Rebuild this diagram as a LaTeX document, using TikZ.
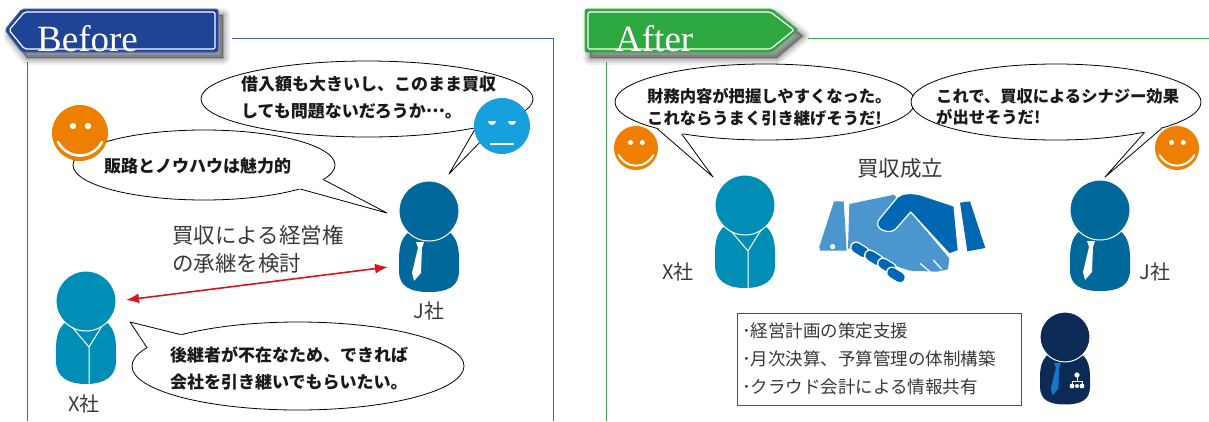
\documentclass[tikz,border=0pt]{standalone}
\usepackage{fontspec}
\setmainfont{Liberation Serif}
\newfontfamily\jp{Noto Sans CJK JP}
\usetikzlibrary{shapes.geometric, arrows.meta, calc}

\definecolor{beforeblue}{HTML}{1F4496}
\definecolor{framebl}{HTML}{4361AD}
\definecolor{aftergreen}{HTML}{2CA83F}
\definecolor{framegr}{HTML}{3FA94B}
\definecolor{smile}{HTML}{EE7F00}
\definecolor{faceblue}{HTML}{17A0DE}
\definecolor{jblue}{HTML}{00689A}
\definecolor{xblue}{HTML}{008EB6}
\definecolor{navy}{HTML}{0C2A55}
\definecolor{tieblue}{HTML}{1877C9}
\definecolor{accred}{HTML}{D8141E}
\definecolor{handlight}{HTML}{4C96CE}
\definecolor{handdark}{HTML}{0067B3}
\definecolor{txt}{HTML}{383838}

% tail of a speech bubble: bubble, two border angles, tip
\newcommand{\saytail}[4]{%
  \fill[white] (#1.#2) -- (#4) -- (#1.#3) -- ($(#1.#3)!5pt!(#1.center)$) -- ($(#1.#2)!5pt!(#1.center)$) -- cycle;
  \draw[line width=0.8pt, line join=round] (#1.#2) -- (#4) -- (#1.#3);
}

\tikzset{
  bubble/.style={ellipse, draw, fill=white, line width=0.8pt, inner sep=0pt},
  saytext/.style={font=\jp\bfseries\fontsize{17}{27}\selectfont, align=left, inner sep=0pt, anchor=west, text=black!90},
  smalltext/.style={saytext, font=\jp\bfseries\fontsize{16.3}{21.5}\selectfont},
  firmname/.style={font=\jp\fontsize{20}{24}\selectfont, text=txt},
  note/.style={font=\jp\fontsize{21.5}{28}\selectfont, text=txt, align=left},
  listbox/.style={draw=accred, line width=0.8pt, align=left, text width=274pt, inner xsep=5pt,
    minimum width=284pt, minimum height=92pt, font=\jp\fontsize{17.5}{28}\selectfont, text=txt},
  tabtext/.style={font=\fontsize{37}{37}\selectfont, text=white, inner sep=0pt, anchor=base west},
  accarrow/.style={accred, line width=1.6pt, {Latex[length=13pt,width=10pt]}-{Latex[length=13pt,width=10pt]}},
  smilewidth/.initial=2.6pt,
  pics/smiley/.style={code={
    \fill[smile] (0,0) circle (28);
    \fill[white] (-7,-7) circle (3.2) (8,-7) circle (3.2);
    \draw[white, line width=\pgfkeysvalueof{/tikz/smilewidth}, line cap=round] (-22,9) .. controls (-12,27) and (12,27) .. (22,9);
  }},
  pics/muteface/.style={code={
    \fill[faceblue] (0,0) circle (28);
    \fill[white] (-14,-5) arc[start angle=180, end angle=0, radius=4] -- cycle
                 (6,-5) arc[start angle=180, end angle=0, radius=4] -- cycle;
    \draw[white, line width=2.5pt] (-12,18) -- (12,18);
  }},
  pics/staff/.style={code={
    \coordinate (-c) at (0,0);
    \fill[#1] (-30,48) .. controls (-30,24) and (-20,16) .. (0,16) .. controls (20,16) and (30,24) .. (30,48)
      -- (30,60) .. controls (30,76) and (18,83) .. (0,83) .. controls (-18,83) and (-30,76) .. (-30,60) -- cycle;
    \filldraw[#1, draw=white, line width=1pt] (0,0) circle (30);
    \draw[white, line width=1pt] (-14,26) -- (3,46) -- (16,25) (3,46) -- (3,83);
  }},
  pics/buyer/.style 2 args={code={
    \coordinate (-c) at (0,0);
    \fill[#1] (-30,48) .. controls (-30,24) and (-20,16) .. (0,16) .. controls (20,16) and (30,24) .. (30,48)
      -- (30,60) .. controls (30,76) and (18,81) .. (0,81) .. controls (-18,81) and (-30,76) .. (-30,60) -- cycle;
    \filldraw[#1, draw=white, line width=1pt] (0,0) circle (30);
    \fill[#2] (-13,31) -- (-5,31) -- (-7,37) -- (-8,62) -- (-15,70) -- (-17,62) -- (-11,37) -- cycle;
  }},
}

\begin{document}
\begin{tikzpicture}[x=1pt, y=-1pt]
  \useasboundingbox (0,0) rectangle (1209,421);

  % ---------- Before ----------
  \draw[framebl, line width=1pt] (232,38) -- (553,38) -- (553,421);
  \draw[framebl, line width=1pt] (27,62) -- (27,421);
  \foreach \w/\o in {14/0.06, 10/0.08, 6/0.1, 2/0.16}
    \filldraw[black, opacity=\o, line width=\w pt, line join=round, shift={(5,6)}]
      (5,30) -- (22,9) -- (218,9) -- (218,52) -- (22,52) -- cycle;
  \filldraw[fill=beforeblue, draw=framebl, line width=1pt, rounded corners=2pt]
    (5,30) -- (22,9) -- (218,9) -- (218,52) -- (22,52) -- cycle;
  \draw[white, line width=1.2pt, rounded corners=2pt]
    (9,30) -- (24.5,12) -- (215,12) -- (215,49) -- (24.5,49) -- cycle;
  \node[tabtext] (before) at (37,51) {Before};

  % bubbles
  \node[bubble, minimum width=332pt, minimum height=76pt] (b1) at (367,99) {};
  \coordinate (t1) at (449,174);
  \saytail{b1}{-15}{-10}{t1}
  \node[saytext] (b1t) at (241,98) {借入額も大きいし、このまま買収\\しても問題ないだろうか\raisebox{.33em}{…}。};
  \pic (mf) at (502,126) {muteface};

  \node[bubble, minimum width=262pt, minimum height=70pt] (b2) at (204,165) {};
  \coordinate (t2) at (387,213);
  \saytail{b2}{-14}{-7}{t2}
  \node[saytext] (b2t) at (104,166) {販路とノウハウは魅力的};
  \pic (sm) at (80,133) {smiley};

  \node[bubble, minimum width=332pt, minimum height=88pt] (b3) at (298,366) {};
  \coordinate (t3) at (130,322);
  \saytail{b3}{165}{173}{t3}
  \node[saytext] (b3t) at (170,368) {後継者が不在なため、できれば\\会社を引き継いでもらいたい。};

  % people
  \pic (jb) at (429,211) {buyer={jblue}{white}};
  \pic (xb) at (86,301) {staff=xblue};
  \node[firmname] (jbn) at (429,311) {J社};
  \node[firmname] (xbn) at (84,404) {X社};

  \node[note] (deal) at (258,249) {買収による経営権\\の承継を検討};
  \draw[accarrow] ($(xb-c)+(40,-1)$) -- ($(jb-c)+(-41,56)$);

  % ---------- After ----------
  \draw[framegr, line width=1pt] (808,38) -- (1209,38);
  \draw[framegr, line width=1pt] (606,62) -- (606,421);
  \foreach \w/\o in {14/0.06, 10/0.08, 6/0.1, 2/0.16}
    \filldraw[black, opacity=\o, line width=\w pt, line join=round, shift={(5,6)}]
      (585,9) -- (772,9) -- (798,30) -- (772,52) -- (585,52) -- cycle;
  \filldraw[fill=aftergreen, draw=framegr, line width=1pt, rounded corners=2pt]
    (585,9) -- (772,9) -- (798,30) -- (772,52) -- (585,52) -- cycle;
  \draw[white, line width=1.2pt, rounded corners=2pt]
    (588,12) -- (770.5,12) -- (794,30) -- (770.5,49) -- (588,49) -- cycle;
  \node[tabtext] (after) at (615,51) {After};

  \node[bubble, minimum width=300pt, minimum height=76pt] (ba) at (765,102) {};
  \coordinate (ta) at (713,177);
  \saytail{ba}{-166}{-159}{ta}
  \node[smalltext] (bat) at (647,107) {財務内容が把握しやすくなった。\\これならうまく引き継げそうだ!};

  \node[bubble, minimum width=290pt, minimum height=76pt] (bb) at (1056,102) {};
  \coordinate (tb) at (1105,177);
  \saytail{bb}{-19}{-14}{tb}
  \node[smalltext] (bbt) at (936,107) {これで、買収によるシナジー効果\\が出せそうだ!};

  \pic[scale=0.786, smilewidth=2pt] (sa) at (636,148) {smiley};
  \pic[scale=0.786, smilewidth=2pt] (sb) at (1177,148) {smiley};

  \node[note] (done) at (900,168) {買収成立};

  \pic (xa) at (745,205) {staff=xblue};
  \pic (ja) at (1100,210) {buyer={jblue}{white}};
  \node[firmname] (xan) at (678,272) {X社};
  \node[firmname] (jan) at (1155,272) {J社};

  % handshake
  \begin{scope}[shift={(810,180)}, scale=1/3]
    \fill[handlight] (72,64) -- (101,64) -- (110,212) -- (30,212) -- (28,200) -- cycle;
    \fill[white] (68,200) circle (8);
    \fill[handlight] (118,72) -- (252,44) -- (300,95) -- (418,235) -- (414,268) -- (380,275)
      -- (300,272) -- (200,240) -- (140,212) -- (114,205) -- cycle;
    \filldraw[handdark, draw=white, line width=1.2pt, line join=round]
      (222,152) .. controls (200,145) and (198,128) .. (210,115) -- (262,52)
      .. controls (275,40) and (300,38) .. (330,44) -- (432,78) -- (445,212) -- (418,222)
      -- (302,96) -- (258,146) .. controls (248,156) and (235,156) .. (222,152) -- cycle;
    \fill[handdark] (450,68) -- (480,64) -- (526,204) -- (472,214) -- cycle;
    \draw[white, line width=1.2pt] (330,250) -- (360,275) (370,240) -- (395,268);
  \end{scope}
  % fingers of the dark hand
  \foreach \x/\y in {860/250, 874/258, 887/266, 896/275} {
    \draw[white, line width=12pt, line cap=round] ($(\x,\y)+(-4,-2.5)$) -- ($(\x,\y)+(4,2.5)$);
    \draw[handdark, line width=9.5pt, line cap=round] ($(\x,\y)+(-4,-2.5)$) -- ($(\x,\y)+(4,2.5)$);
  }

  \node[listbox] (plan) at (879,359) {･経営計画の策定支援\\･月次決算、予算管理の体制構築\\･クラウド会計による情報共有};

  % advisor
  \pic[scale=0.833] (adv) at (1065,337) {buyer={navy}{tieblue}};
  \fill[white] ($(adv-c)+(12,38)$) circle (2.6);
  \draw[white, line width=0.9pt] ($(adv-c)+(12,40)$) -- ++(0,4) ++(-5,0) -- ++(10,0)
    ($(adv-c)+(7,44)$) -- ++(0,3) ($(adv-c)+(17,44)$) -- ++(0,3);
  \fill[white] ($(adv-c)+(7,49)$) circle (2.4) ($(adv-c)+(12,49)$) circle (2) ($(adv-c)+(17,49)$) circle (2.4);
\end{tikzpicture}
\end{document}
